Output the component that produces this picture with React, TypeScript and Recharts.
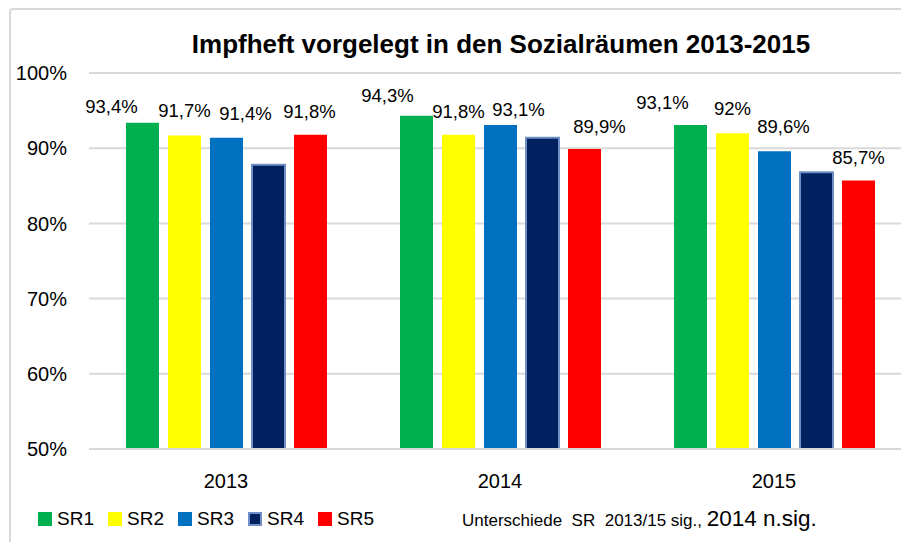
import React from "react";
import { BarChart, Bar, XAxis, YAxis, CartesianGrid, LabelList } from "recharts";

const years = ["2013", "2014", "2015"];
const sr1 = [93.4, 94.3, 93.1];
const sr2 = [91.7, 91.8, 92];
const sr3 = [91.4, 93.1, 89.6];
const sr4 = [87.8, 91.4, 86.8];
const sr5 = [91.8, 89.9, 85.7];
const yTicks = [50, 60, 70, 80, 90, 100];

const seriesNames = ["SR1", "SR2", "SR3", "SR4", "SR5"];
const seriesColors = ["#00b050", "#ffff00", "#0070c0", "#002060", "#ff0000"];
const noteA = "Unterschiede  SR  2013/15 sig., ";
const noteB = "2014 n.sig.";

const data = years.map((year, i) => ({
  year,
  SR1: sr1[i],
  SR2: sr2[i],
  SR3: sr3[i],
  SR4: sr4[i],
  SR5: sr5[i],
}));

// hand-placed label nudges as in the original (dx, dy per year)
const labelNudge: Record<string, [number, number][]> = {
  SR1: [[-31, 7], [-29, 3], [-28, 1]],
  SR2: [[0, -1], [0, 0], [0, -1]],
  SR3: [[19, -1], [18, 8], [9, -1]],
  SR5: [[-1, 0], [15, 1], [0, 0]],
};

const FONT = "'Liberation Sans', Arial, sans-serif";
const fmt = (v: number) => `${String(v).replace(".", ",")}%`;

const makeLabel = (name: string) => (props: any) => {
  const { x, y, width, value, index } = props;
  const [dx, dy] = labelNudge[name][index] || [0, 0];
  return (
    <text
      x={Number(x) + Number(width) / 2 + dx}
      y={Number(y) - 17 + dy}
      textAnchor="middle"
      fill="#000"
      fontSize={18.5}
      fontFamily={FONT}
    >
      {fmt(Number(value))}
    </text>
  );
};

export default function App() {
  return (
    <div
      style={{
        position: "absolute",
        left: 0,
        top: 0,
        width: 901,
        height: 542,
        overflow: "hidden",
        background: "#fff",
        fontFamily: FONT,
      }}
    >
      <div
        style={{
          position: "absolute",
          left: 9,
          top: 8,
          width: 1000,
          height: 1000,
          border: "2px solid #d9d9d9",
          borderRadius: 4,
        }}
      />
      <div
        style={{
          position: "absolute",
          left: 100,
          width: 802,
          top: 31,
          lineHeight: "26px",
          textAlign: "center",
          fontSize: 26,
          fontWeight: "bold",
          color: "#000",
        }}
      >
        Impfheft vorgelegt in den Sozialräumen 2013-2015
      </div>
      <div style={{ position: "absolute", left: 0, top: 0 }}>
        <BarChart
          width={927}
          height={542}
          data={data}
          margin={{ top: 73, right: 16, bottom: 63, left: 0 }}
          barGap={9}
          barSize={33}
        >
          <CartesianGrid vertical={false} stroke="#d9d9d9" strokeWidth={2} />
          <XAxis
            dataKey="year"
            tickLine={false}
            axisLine={{ stroke: "#d9d9d9", strokeWidth: 2 }}
            tick={{ fill: "#000", fontSize: 20, fontFamily: FONT }}
            tickMargin={19}
          />
          <YAxis
            domain={[50, 100]}
            ticks={yTicks}
            width={89}
            tickLine={false}
            axisLine={false}
            tickFormatter={(v: number) => `${v}%`}
            tick={{ fill: "#000", fontSize: 20, fontFamily: FONT }}
            tickMargin={16}
          />
          {seriesNames.map((name, i) => (
            <Bar
              key={name}
              dataKey={name}
              fill={seriesColors[i]}
              stroke={name === "SR4" ? "#6f8fc7" : undefined}
              strokeWidth={name === "SR4" ? 2 : 0}
              isAnimationActive={false}
            >
              {name !== "SR4" && <LabelList dataKey={name} content={makeLabel(name)} />}
            </Bar>
          ))}
        </BarChart>
      </div>
      <div
        style={{
          position: "absolute",
          left: 38,
          top: 507,
          height: 24,
          display: "flex",
          alignItems: "center",
          fontSize: 19,
          color: "#000",
        }}
      >
        {seriesNames.map((name, i) => (
          <div key={name} style={{ display: "flex", alignItems: "center", width: 70 }}>
            <span
              style={{
                display: "inline-block",
                boxSizing: "border-box",
                width: 14,
                height: 14,
                background: seriesColors[i],
                border: name === "SR4" ? "2px solid #6f8fc7" : "none",
                marginRight: 5,
              }}
            />
            {name}
          </div>
        ))}
      </div>
      <div
        style={{
          position: "absolute",
          left: 462,
          top: 506,
          height: 26,
          lineHeight: "26px",
          whiteSpace: "pre",
          color: "#000",
        }}
      >
        <span style={{ fontSize: 17 }}>{noteA}</span>
        <span style={{ fontSize: 22.5 }}>{noteB}</span>
      </div>
    </div>
  );
}
